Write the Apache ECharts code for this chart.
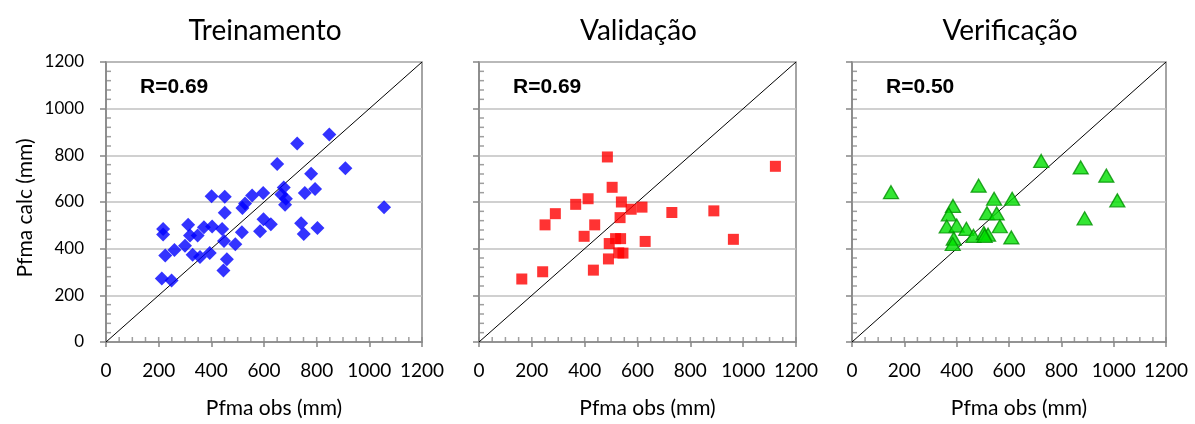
<!DOCTYPE html>
<html>
<head>
<meta charset="utf-8">
<script src="https://cdn.jsdelivr.net/npm/echarts@6/dist/echarts.min.js"></script>
<style>html,body{margin:0;padding:0;background:#fff}#c{width:1195px;height:424px}</style>
</head>
<body>
<div id="c"></div>
<script>
// ---- data ----
const panelTitles = ['Treinamento', 'Validação', 'Verificação'];
const rLabels = ['R=0.69', 'R=0.69', 'R=0.50'];
const xAxisName = 'Pfma obs (mm)';
const yAxisName = 'Pfma calc (mm)';
const axisMin = 0, axisMax = 1200, axisStep = 200;
const xMinorStep = 50, yMinorStep = 40;
const diagonal = [[0, 0], [1200, 1200]];

const treinoObs  = [217,217,225,212,249,260,300,312,319,348,329,357,372,401,403,394,441,451,451,448,459,446,491,516,518,528,555,597,585,598,626,650,666,675,683,680,726,741,751,755,779,794,803,848,909,1056];
const treinoCalc = [484,461,371,272,264,394,413,502,456,456,374,364,492,625,495,381,484,622,554,433,355,306,419,470,574,594,628,639,475,526,505,763,632,662,614,588,851,509,463,639,721,656,489,889,745,578];

const validObs  = [162,241,250,289,366,398,413,433,438,486,493,504,490,536,534,539,529,545,517,576,617,629,730,889,963,1122];
const validCalc = [270,301,502,550,590,453,614,308,502,793,422,663,356,443,533,600,382,381,443,569,578,431,555,562,440,753];

const verifObs  = [149,723,874,972,1014,889,484,543,612,386,370,362,400,389,385,437,464,516,553,565,504,520,507,609];
const verifCalc = [642,776,748,713,607,530,670,614,614,583,547,495,499,443,420,485,455,552,551,496,467,460,455,448];

// ---- layout ----
const grids = [
  {left: 106, top: 62, width: 316, height: 284},
  {left: 479, top: 62, width: 317, height: 284},
  {left: 852, top: 62, width: 314, height: 284}
];
const FONT = 'Lato, "Noto Sans", sans-serif';
const axisGray = '#878787';
const zip = (a, b) => a.map((v, i) => [v, b[i]]);
const plain = v => String(v);

// inward tick positions along the axes (value space)
const xInward = [], yInward = [];
for (let v = axisMin; v <= axisMax; v += xMinorStep) xInward.push([v, axisMin]);
for (let v = axisMin + yMinorStep; v < axisMax; v += yMinorStep) if (v % axisStep !== 0) yInward.push([axisMin, v]);

const series = [];
const xAxes = [], yAxes = [];
grids.forEach((g, i) => {
  xAxes.push({
    gridIndex: i, type: 'value', min: axisMin, max: axisMax, interval: axisStep, position: 'bottom',
    name: xAxisName, nameLocation: 'middle', nameGap: 56,
    nameTextStyle: {fontFamily: FONT, fontSize: 21, color: '#000', padding: [0, 0, 0, 20]},
    axisLine: {show: true, onZero: false, lineStyle: {color: axisGray, width: 1.5}},
    axisTick: {show: true, inside: false, length: 5, lineStyle: {color: axisGray, width: 1.5}},
    axisLabel: {fontFamily: FONT, fontSize: 19, color: '#000', margin: 19, formatter: plain},
    splitLine: {show: false}
  });
  yAxes.push({
    gridIndex: i, type: 'value', min: axisMin, max: axisMax, interval: axisStep, position: 'left',
    name: i === 0 ? yAxisName : '', nameLocation: 'middle', nameGap: 70,
    nameTextStyle: {fontFamily: FONT, fontSize: 21, color: '#000', padding: [0, 12, 0, 0]},
    axisLine: {show: true, onZero: false, lineStyle: {color: axisGray, width: 1.5}},
    axisTick: {show: true, inside: false, length: 6, lineStyle: {color: axisGray, width: 1.5}},
    axisLabel: {show: i === 0, fontFamily: FONT, fontSize: 17, color: '#000', margin: 22, formatter: plain},
    splitLine: {show: true, lineStyle: {color: '#c0c0c0', width: 1.5}}
  });
});

const markerStyles = [
  {symbol: 'diamond', symbolSize: 14, itemStyle: {color: '#0000ff'}},
  {symbol: 'rect', symbolSize: 11, itemStyle: {color: '#ff0000'}},
  {symbol: 'triangle', symbolSize: [15, 13], itemStyle: {color: '#00e000', borderColor: '#009000', borderWidth: 1.3}}
];
const datasets = [zip(treinoObs, treinoCalc), zip(validObs, validCalc), zip(verifObs, verifCalc)];

grids.forEach((g, i) => {
  series.push({
    type: 'scatter', xAxisIndex: i, yAxisIndex: i, data: xInward, clip: false, silent: true, z: 2,
    symbol: 'rect', symbolSize: [1.5, 5], symbolOffset: [0, -2.5],
    itemStyle: {color: axisGray}, emphasis: {disabled: true}
  });
  series.push({
    type: 'scatter', xAxisIndex: i, yAxisIndex: i, data: yInward, clip: false, silent: true, z: 2,
    symbol: 'rect', symbolSize: [5, 1.5], symbolOffset: [2.5, 0],
    itemStyle: {color: axisGray}, emphasis: {disabled: true}
  });
  series.push({
    type: 'line', xAxisIndex: i, yAxisIndex: i, data: diagonal, symbol: 'none',
    lineStyle: {color: '#000', width: 1}, silent: true, z: 3
  });
  series.push(Object.assign({
    type: 'scatter', xAxisIndex: i, yAxisIndex: i, data: datasets[i], z: 4
  }, markerStyles[i]));
});

const graphics = [];
grids.forEach((g, i) => {
  graphics.push({
    type: 'text', x: g.left + g.width / 2 + 1, y: 31,
    style: {text: panelTitles[i], fontFamily: FONT, fontSize: 28, fill: '#000', textAlign: 'center', textVerticalAlign: 'middle'}
  });
  graphics.push({
    type: 'text', x: g.left + 34, y: 87, z: 10,
    style: {text: rLabels[i], fontFamily: '"Liberation Sans", Arial, sans-serif', fontWeight: 'bold', fontSize: 21, fill: '#000', textAlign: 'left', textVerticalAlign: 'middle'}
  });
});

const chart = echarts.init(document.getElementById('c'), null, {renderer: 'canvas'});
chart.setOption({
  animation: false,
  backgroundColor: '#fff',
  grid: grids.map(g => Object.assign({show: true, borderColor: axisGray, borderWidth: 1.5, backgroundColor: 'transparent'}, g)),
  xAxis: xAxes,
  yAxis: yAxes,
  series: series,
  graphic: graphics
});
</script>
</body>
</html>
